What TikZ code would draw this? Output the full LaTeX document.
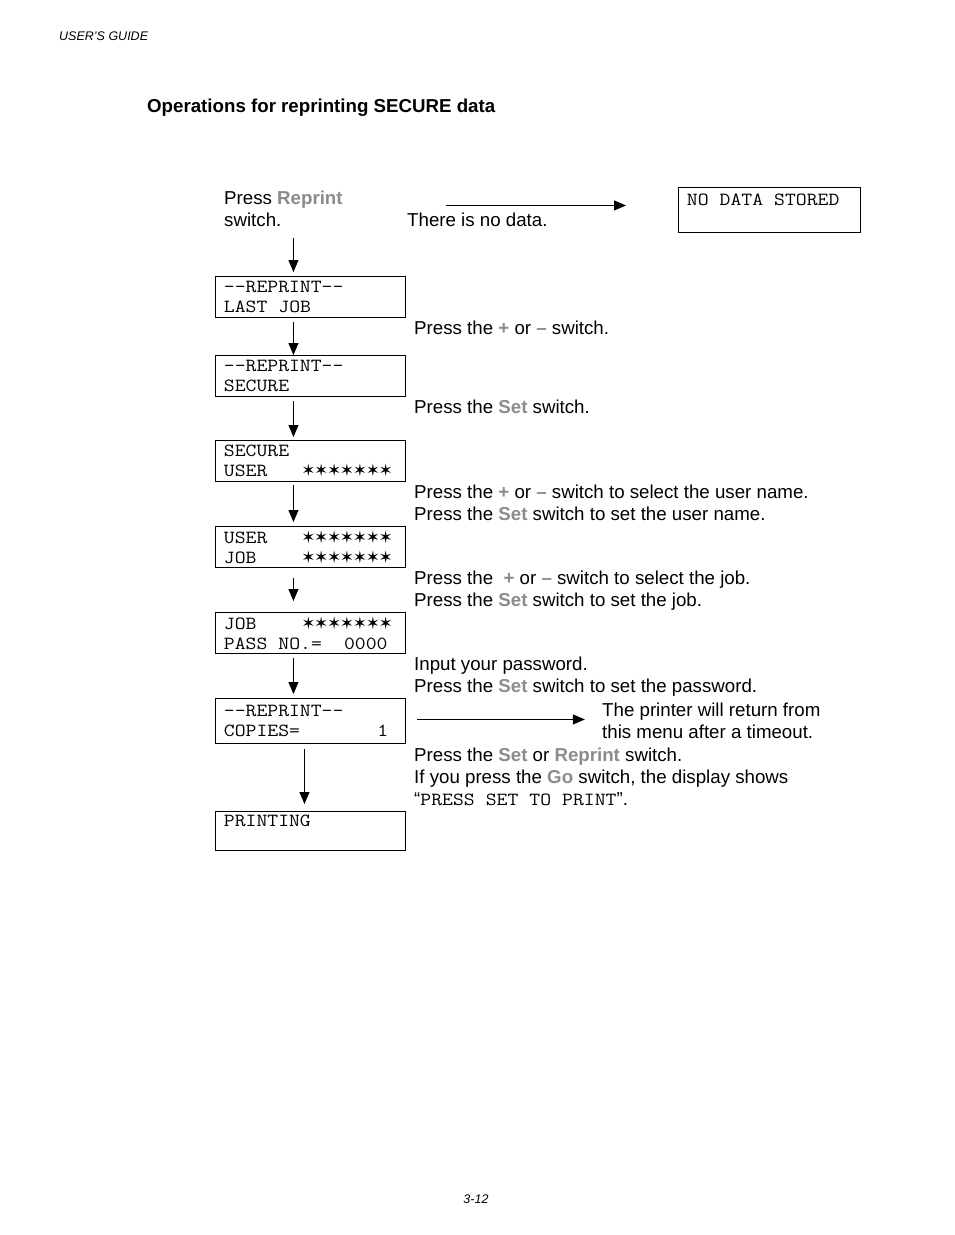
\documentclass[tikz,border=0pt]{standalone}
\usepackage{fontspec}
\setmainfont{Liberation Sans}
\setmonofont[FakeStretch=1.14]{Latin Modern Mono}
\newfontfamily\symfont{DejaVu Sans}
\usetikzlibrary{arrows.meta}
\definecolor{keygrey}{gray}{0.55}
\newcommand\hl[1]{\textcolor{keygrey}{\bfseries #1}}
\newcommand\onestar{\makebox[12.9pt]{\symfont\fontsize{17}{17}\selectfont ✶}}
\newcommand\starrow{\onestar\onestar\onestar\onestar\onestar\onestar\onestar}
\newcommand\msp{\makebox[0.5985em]{}}
\begin{document}
\begin{tikzpicture}[x=1pt,y=-1pt,
  lcd/.style={draw, line width=0.9pt, anchor=north west, minimum width=190pt, minimum height=41pt,
    inner xsep=8.5pt, inner ysep=0pt, text width=173pt, align=left,
    font=\ttfamily\fontsize{18.5}{20}\selectfont},
  txt/.style={anchor=base west, inner sep=0pt, align=left, font=\fontsize{18.7}{22}\selectfont},
  arr/.style={line width=0.9pt, -{Triangle[length=12pt,width=10pt]}}]
\useasboundingbox (0,0) rectangle (954,1235);
\fill[white] (0,0) rectangle (954,1235);
% header / footer
\node[anchor=base west, inner sep=0pt, font=\itshape\fontsize{12.5}{14}\selectfont] (hdr) at (59,40) {USER’S GUIDE};
\node[anchor=base, inner sep=0pt, font=\itshape\fontsize{12.5}{14}\selectfont] (ftr) at (476,1203) {3-12};
\node[anchor=base west, inner sep=0pt, font=\bfseries\fontsize{18.7}{22}\selectfont] (title) at (147,112) {Operations for reprinting SECURE data};
% boxes
\node[lcd, minimum width=182pt, minimum height=45pt, text width=165pt] (nodata) at (678,187) {NO\msp DATA\msp STORED\\\mbox{}};
\node[lcd] (b1) at (215,276) {-{}-REPRINT-{}-\\LAST\msp JOB};
\node[lcd] (b2) at (215,355) {-{}-REPRINT-{}-\\SECURE};
\node[lcd] (b3) at (215,440) {SECURE\\\makebox[78pt][l]{USER}\starrow};
\node[lcd] (b4) at (215,526) {\makebox[78pt][l]{USER}\starrow\\\makebox[78pt][l]{JOB}\starrow};
\node[lcd] (b5) at (215,612) {\makebox[78pt][l]{JOB}\starrow\\PASS\msp NO.=\msp\msp 0000};
\node[lcd, minimum height=45pt] (b6) at (215,698) {-{}-REPRINT-{}-\\COPIES=\msp\msp\msp\msp\msp\msp\msp 1};
\node[lcd, minimum height=39pt] (b7) at (215,811) {PRINTING\\\mbox{}};
% texts
\node[txt] (press) at (224,226) {Press \hl{Reprint}\\switch.};
\node[txt] (nodatatxt) at (407,226) {There is no data.};
\node[txt] (t1) at (414,334) {Press the \hl{+} or \hl{–} switch.};
\node[txt] (t2) at (414,413) {Press the \hl{Set} switch.};
\node[txt] (t3) at (414,520) {Press the \hl{+} or \hl{–} switch to select the user name.\\Press the \hl{Set} switch to set the user name.};
\node[txt] (t4) at (414,606) {Press the\ \ \hl{+} or \hl{–} switch to select the job.\\Press the \hl{Set} switch to set the job.};
\node[txt] (t5) at (414,692) {Input your password.\\Press the \hl{Set} switch to set the password.};
\node[txt] (t6) at (602,738) {The printer will return from\\this menu after a timeout.};
\node[txt] (t7) at (414,805) {Press the \hl{Set} or \hl{Reprint} switch.\\If you press the \hl{Go} switch, the display shows\\“{\ttfamily\fontsize{18.5}{22}\selectfont PRESS\msp SET\msp TO\msp PRINT}”.};
% connectors
\draw[arr] ([xshift=-232pt,yshift=4.5pt]nodata.west) -- ([xshift=-52pt,yshift=4.5pt]nodata.west);
\draw[arr] ([xshift=-17pt,yshift=38pt]b1.north) -- ([xshift=-17pt,yshift=4pt]b1.north);
\draw[arr] ([xshift=-17pt,yshift=-4pt]b1.south) -- ([xshift=-17pt]b2.north);
\draw[arr] ([xshift=-17pt,yshift=-4pt]b2.south) -- ([xshift=-17pt,yshift=3pt]b3.north);
\draw[arr] ([xshift=-17pt,yshift=-3pt]b3.south) -- ([xshift=-17pt,yshift=4pt]b4.north);
\draw[arr] ([xshift=-17pt,yshift=-10pt]b4.south) -- ([xshift=-17pt,yshift=11pt]b5.north);
\draw[arr] ([xshift=-17pt,yshift=-4pt]b5.south) -- ([xshift=-17pt,yshift=4pt]b6.north);
\draw[arr] ([xshift=11pt,yshift=1.5pt]b6.east) -- ([xshift=179pt,yshift=1.5pt]b6.east);
\draw[arr] ([xshift=-6pt,yshift=-5pt]b6.south) -- ([xshift=-6pt,yshift=7pt]b7.north);
\end{tikzpicture}
\end{document}
